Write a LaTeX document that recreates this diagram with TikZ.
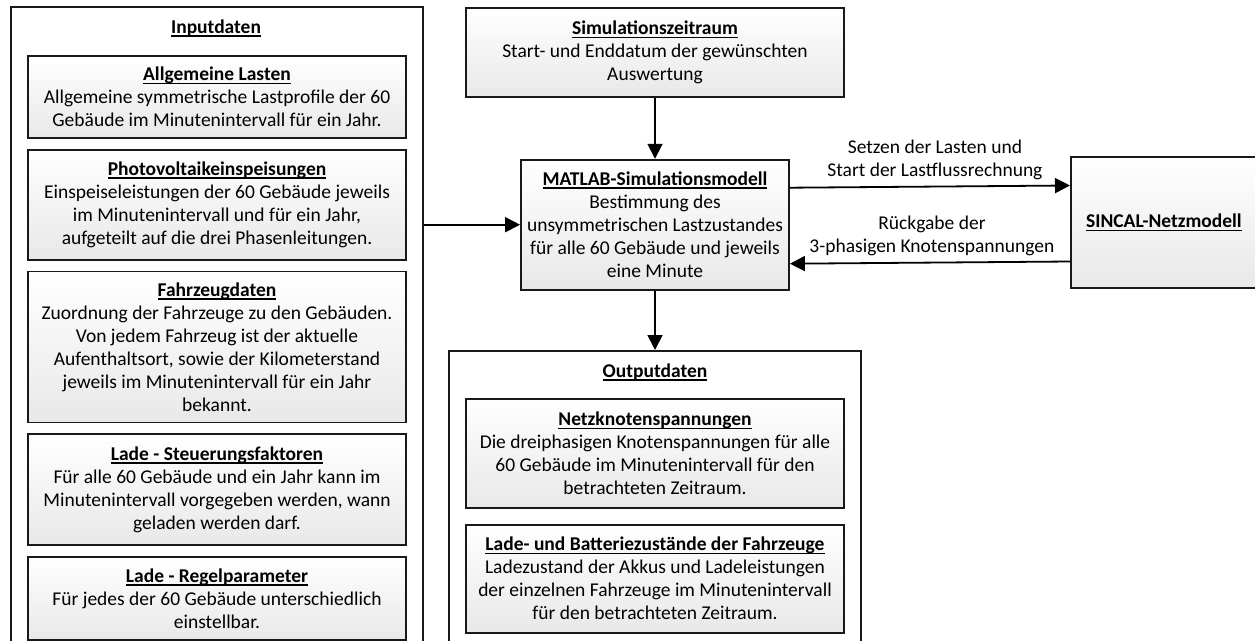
\documentclass[tikz,border=0pt]{standalone}
\usepackage{fontspec}
\setmainfont{Carlito}
\usetikzlibrary{arrows.meta,positioning}
\newcommand{\ul}[1]{\setbox0=\hbox{#1}\leavevmode\rlap{\vrule height -2pt depth 3.4pt width \wd0}\box0}
\newcommand{\boxhead}[1]{\textbf{\ul{#1}}}

\begin{document}
\begin{tikzpicture}[
  x=1pt, y=-1pt,
  font=\fontsize{19.5}{23}\selectfont,
  frame/.style={rectangle, draw=black!90, line width=1.8pt, fill=white, inner sep=0pt},
  item/.style={rectangle, draw=black!90, line width=1.8pt, top color=white, bottom color=black!9,
               align=center, inner sep=3pt, minimum width=378pt},
  head/.style={font=\fontsize{19.5}{23}\selectfont\bfseries, inner sep=1pt},
  arr/.style={-{Triangle[length=15pt,width=15pt]}, line width=1.8pt},
  lab/.style={align=center, inner sep=6pt},
]
\clip (0,0) rectangle (1255,640);
% input column
\node[frame, minimum width=412pt, minimum height=660pt, anchor=north west] (inp) at (10,6) {};
\node[head] (inph) at (216,28) {\ul{Inputdaten}};
\node[item, minimum height=82pt, anchor=north] (al) at (217,55) {\boxhead{Allgemeine Lasten}\\Allgemeine symmetrische Lastprofile der 60\\Gebäude im Minutenintervall für ein Jahr.};
\node[item, minimum height=110pt, below=10pt of al] (pv) {\boxhead{Photovoltaikeinspeisungen}\\Einspeiseleistungen der 60 Gebäude jeweils\\im Minutenintervall und für ein Jahr,\\aufgeteilt auf die drei Phasenleitungen.};
\node[item, minimum height=151pt, below=10pt of pv] (fz) {\boxhead{Fahrzeugdaten}\\Zuordnung der Fahrzeuge zu den Gebäuden.\\Von jedem Fahrzeug ist der aktuelle\\Aufenthaltsort, sowie der Kilometerstand\\jeweils im Minutenintervall für ein Jahr\\bekannt.};
\node[item, minimum height=111pt, below=10pt of fz] (ls) {\boxhead{Lade - Steuerungsfaktoren}\\Für alle 60 Gebäude und ein Jahr kann im\\Minutenintervall vorgegeben werden, wann\\geladen werden darf.};
\node[item, minimum height=83pt, below=10pt of ls] (lr) {\boxhead{Lade - Regelparameter}\\Für jedes der 60 Gebäude unterschiedlich\\einstellbar.};
% middle column
\node[item, minimum height=89pt, anchor=north] (sim) at (655,7) {\boxhead{Simulationszeitraum}\\Start- und Enddatum der gewünschten\\Auswertung};
\node[item, minimum width=268pt, minimum height=130pt, below=61pt of sim] (matlab) {\boxhead{MATLAB-Simulationsmodell}\\Bestimmung des\\unsymmetrischen Lastzustandes\\für alle 60 Gebäude und jeweils\\eine Minute};
\node[item, minimum width=186pt, minimum height=131pt, anchor=west] (sincal) at (1070,222.5) {\boxhead{SINCAL-Netzmodell}};
% output column
\node[frame, minimum width=412pt, minimum height=320pt, anchor=north] (out) at (655,350) {};
\node[head] (outh) at (655,372) {\ul{Outputdaten}};
\node[item, minimum height=109pt, anchor=north] (nk) at (655,398) {\boxhead{Netzknotenspannungen}\\Die dreiphasigen Knotenspannungen für alle\\60 Gebäude im Minutenintervall für den\\betrachteten Zeitraum.};
\node[item, minimum height=108pt, below=15pt of nk] (lb) {\boxhead{Lade- und Batteriezustände der Fahrzeuge}\\Ladezustand der Akkus und Ladeleistungen\\der einzelnen Fahrzeuge im Minutenintervall\\für den betrachteten Zeitraum.};
% connectors
\draw[arr] (matlab.west -| inp.east) -- (matlab.west);
\draw[arr] (sim) -- (matlab);
\draw[arr] (matlab) -- (out);
\draw[arr] ([yshift=37pt]matlab.east) -- node[lab, above, xshift=5pt] {Setzen der Lasten und\\Start der Lastflussrechnung} ([yshift=37pt]sincal.west);
\draw[arr] ([yshift=-39pt]sincal.west) -- node[lab, above, xshift=2pt] {Rückgabe der\\3-phasigen Knotenspannungen} ([yshift=-39pt]matlab.east);
\end{tikzpicture}
\end{document}
